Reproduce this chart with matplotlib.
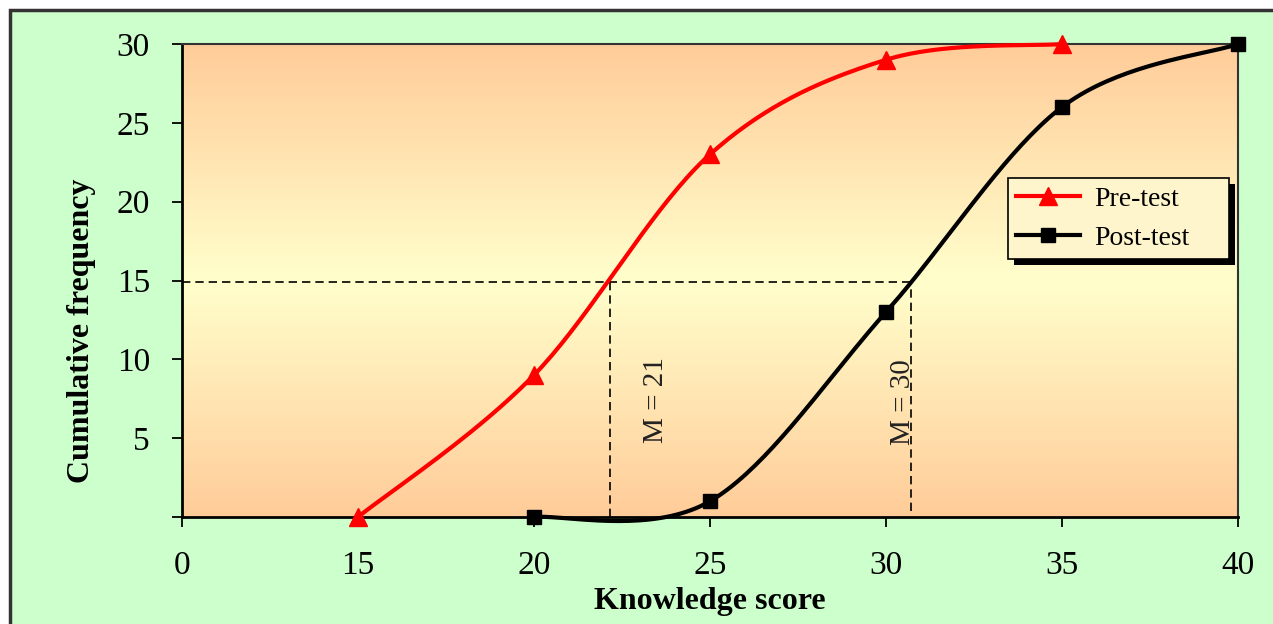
import matplotlib
matplotlib.use("Agg")
import matplotlib.pyplot as plt
import numpy as np
from matplotlib.colors import LinearSegmentedColormap
from matplotlib.patches import Rectangle

# category axis: the scores are equally spaced labels
score_labels = ["0", "15", "20", "25", "30", "35", "40"]

pre_scores = ["15", "20", "25", "30", "35"]
pre_freq = [0, 9, 23, 29, 30]

post_scores = ["20", "25", "30", "35", "40"]
post_freq = [0, 1, 13, 26, 30]

y_ticks = [0, 5, 10, 15, 20, 25, 30]
median_freq = 14.9
pre_median_pos = 2.43   # position on the category axis
post_median_pos = 4.14


def smooth(xs, ys, n=40):
    # excel-like smoothed line: cubic bezier, control points from neighbours / 6
    pts = np.column_stack([xs, ys]).astype(float)
    ext = np.vstack([pts[0], pts, pts[-1]])
    out = []
    for i in range(len(pts) - 1):
        p0 = ext[i + 1]
        p3 = ext[i + 2]
        c1 = p0 + (ext[i + 2] - ext[i]) / 6
        c2 = p3 - (ext[i + 3] - ext[i + 1]) / 6
        t = np.linspace(0, 1, n)[:, None]
        seg = ((1 - t) ** 3 * p0 + 3 * (1 - t) ** 2 * t * c1
               + 3 * (1 - t) * t ** 2 * c2 + t ** 3 * p3)
        out.append(seg if i == 0 else seg[1:])
    out = np.vstack(out)
    return out[:, 0], out[:, 1]


plt.rcParams['font.family'] = ['Liberation Serif', 'DejaVu Serif']

W, H = 1273, 624
fig = plt.figure(figsize=(W / 100, H / 100), dpi=100, facecolor="white")

# green chart area with dark border (cut off at right / bottom)
fig.patches.append(Rectangle((10 / W, -0.05), 1.1, 1 - 10 / H + 0.05,
                             transform=fig.transFigure, facecolor="#CCFFCC",
                             edgecolor="#333333", lw=2.5, zorder=-1))

ax = fig.add_axes([182 / W, 1 - 517 / H, (1238 - 182) / W, (517 - 44) / H])
ax.set_zorder(1)

grad = LinearSegmentedColormap.from_list("g", ["#FFCC99", "#FFFFCC", "#FFCC99"])
ax.imshow(np.linspace(0, 1, 256)[:, None], cmap=grad, extent=[0, 1, 0, 1],
          transform=ax.transAxes, aspect="auto", zorder=0)

pos = {s: i for i, s in enumerate(score_labels)}
px = [pos[s] for s in pre_scores]
qx = [pos[s] for s in post_scores]

sx, sy = smooth(px, pre_freq)
ax.plot(sx, sy, color="#FF0000", lw=3, zorder=4, clip_on=False)
ax.plot(px, pre_freq, "^", color="#FF0000", ms=13, zorder=5, clip_on=False)

sx, sy = smooth(qx, post_freq)
ax.plot(sx, sy, color="black", lw=3, zorder=4, clip_on=False)
ax.plot(qx, post_freq, "s", color="black", ms=10, zorder=5, clip_on=False)

# legend proxies
ax.plot([], [], color="#FF0000", lw=3, marker="^", ms=13, label="Pre-test")
ax.plot([], [], color="black", lw=3, marker="s", ms=10, label="Post-test")

dash = (0, (5, 3))
ax.plot([0, post_median_pos], [median_freq, median_freq], color="black",
        lw=1.2, ls=dash, zorder=3)
ax.plot([pre_median_pos, pre_median_pos], [0, median_freq], color="black",
        lw=1.2, ls=dash, zorder=3)
ax.plot([post_median_pos, post_median_pos], [0.4, median_freq], color="black",
        lw=1.2, ls=dash, zorder=3)

ax.text(2.694, 7.4, "M = 21", rotation=90, ha="center", va="center",
        fontsize=21, color="#222222")
ax.text(4.094, 7.3, "M = 30", rotation=90, ha="center", va="center",
        fontsize=21, color="#222222")

ax.set_xlim(0, len(score_labels) - 1)
ax.set_ylim(0, 30)
ax.set_xticks(range(len(score_labels)))
ax.set_xticklabels(score_labels)
ax.set_yticks(y_ticks)
ax.set_yticklabels(["" if v == 0 else str(v) for v in y_ticks])
ax.tick_params(direction="out", length=7, width=1.3, labelsize=24, colors="black")
ax.tick_params(axis="y", pad=16)
ax.tick_params(axis="x", pad=17)

for s in ["left", "bottom"]:
    ax.spines[s].set_linewidth(2)
    ax.spines[s].set_color("black")
for s in ["top", "right"]:
    ax.spines[s].set_linewidth(1.5)
    ax.spines[s].set_color("#333333")

fig.text(710 / W, 1 - 602 / H, "Knowledge score", ha="center", va="center",
         fontsize=23, fontweight="bold")
fig.text(82 / W, 1 - 331 / H, "Cumulative frequency", ha="center", va="center",
         rotation=90, fontsize=23, fontweight="bold")

leg = ax.legend(loc="upper left",
                bbox_to_anchor=(1008 / W, 1 - 259 / H, 221 / W, 81 / H),
                bbox_transform=fig.transFigure, mode="expand",
                fancybox=False, framealpha=1,
                facecolor="#FFF5CC", edgecolor="black", fontsize=20,
                handlelength=2.3, handletextpad=0.5, borderpad=0.3,
                labelspacing=0.5, borderaxespad=0)
leg.get_frame().set_linewidth(1.2)
leg.set_zorder(10)

# drop shadow under the legend box
fig.canvas.draw()
bb = leg.get_window_extent()
ax.add_patch(Rectangle((bb.x0 + 6, bb.y0 - 6), bb.width, bb.height,
                       transform=None, facecolor="black", zorder=9,
                       clip_on=False))

fig.savefig("out.png", dpi=100, facecolor=fig.get_facecolor())
